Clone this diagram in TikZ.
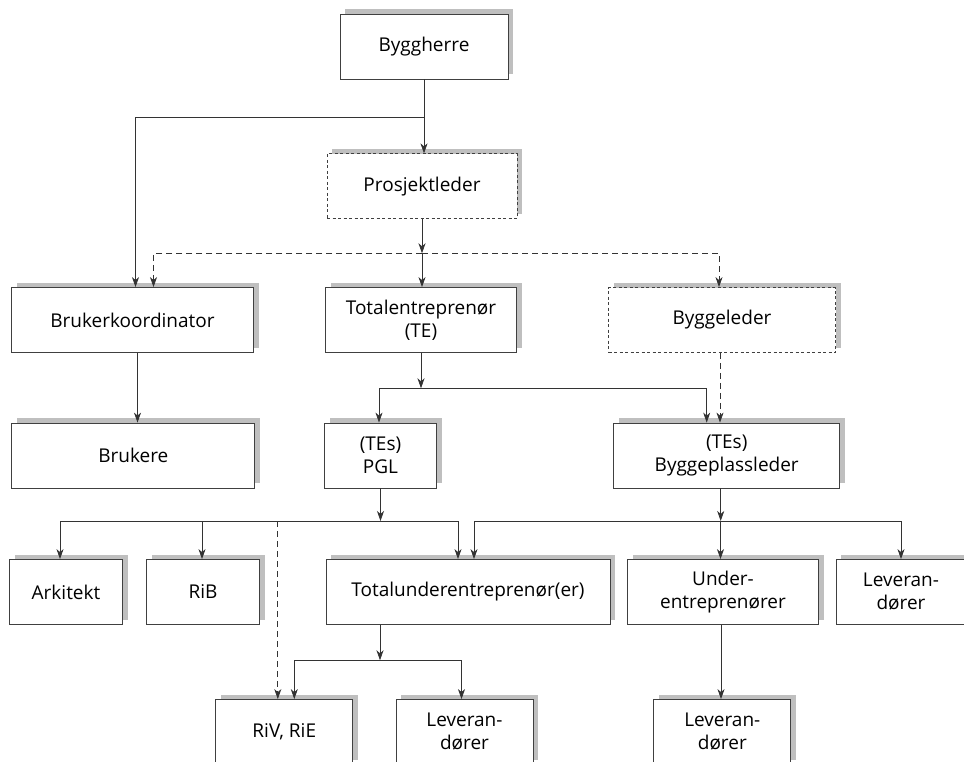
\documentclass[tikz,border=0pt]{standalone}
\usepackage{fontspec}
\setmainfont{Open Sans}
\usepackage{tikz}
\usetikzlibrary{arrows.meta,shadows,positioning}

\newcommand{\orgfont}{\fontsize{19}{23}\selectfont}

\tikzset{
    >={Stealth[length=10pt,width=7pt,inset=3pt]},
    orgbox/.style={draw=black!75, line width=0.8pt, fill=white, rectangle, align=center,
        inner sep=0pt, minimum height=65pt, font=\orgfont,
        drop shadow={shadow xshift=5pt, shadow yshift=5pt, fill=black!25, opacity=1}},
    dashbox/.style={orgbox, dash pattern=on 3pt off 2.5pt},
    link/.style={draw=black!80, line width=0.8pt},
    dashlink/.style={link, dash pattern=on 6pt off 4pt}
}

\begin{document}
\begin{tikzpicture}[x=1pt,y=-1pt]
    \path [fill=white] (0,0) rectangle (964,762);
    \useasboundingbox (0,0) rectangle (964,762);
    \path
        (424,46.5)    node [orgbox, minimum width=168pt]  (byggherre) {Byggherre}
        (422,186.3)   node [dashbox, minimum width=190pt] (prosjektleder) {Prosjektleder}
        (132.5,320)   node [orgbox, minimum width=242pt]  (brukerkoord) {Brukerkoordinator}
        (421,320)     node [orgbox, minimum width=191pt]  (te) {Totalentreprenør\\(TE)}
        (722,320)     node [dashbox, minimum width=227pt] (byggeleder) {Byggeleder}
        (133.3,455.5) node [orgbox, minimum width=243pt]  (brukere) {Brukere}
        (380.5,455.5) node [orgbox, minimum width=112pt]  (pgl) {(TEs)\\PGL}
        (726.7,455.5) node [orgbox, minimum width=226pt]  (bpl) {(TEs)\\Byggeplassleder}
        (66,592)      node [orgbox, minimum width=113pt]  (arkitekt) {Arkitekt}
        (203,592)     node [orgbox, minimum width=113pt]  (rib) {RiB}
        (468,592)     node [orgbox, minimum width=284pt]  (tue) {Totalunderentreprenør(er)}
        (723,592)     node [orgbox, minimum width=191pt]  (ue) {Under-\\entreprenører}
        (901,592)     node [orgbox, minimum width=130pt]  (levR) {Leveran-\\dører}
        (284.3,732)   node [orgbox, minimum width=137pt]  (riv) {RiV, RiE}
        (464.5,732)   node [orgbox, minimum width=137pt]  (levM) {Leveran-\\dører}
        (722.3,732)   node [orgbox, minimum width=137pt]  (levB) {Leveran-\\dører}
        ;
    % branch points
    \coordinate (jtop)  at (424,117.3);
    \coordinate (jdash) at (422,253.3);
    \coordinate (jte)   at (421,388.3);
    \coordinate (jpgl)  at (380.5,521);
    \coordinate (jbpl)  at (720.7,521);
    \coordinate (jtue)  at (380,660.3);

    \draw [link,->] (byggherre.south) -- (byggherre.south |- prosjektleder.north);
    \draw [link,->] (jtop) -| ([xshift=3pt]brukerkoord.north);
    \draw [link,->] (prosjektleder.south) -- (jdash);
    \draw [link,->] (jdash) -- (jdash |- te.north);
    \draw [dashlink,->] (jdash) -| ([xshift=21pt]brukerkoord.north);
    \draw [dashlink,->] (jdash) -| ([xshift=-3pt]byggeleder.north);
    \draw [link,->] ([xshift=5pt]brukerkoord.south) -- ([xshift=5pt]brukerkoord.south |- brukere.north);

    \draw [link,->] (te.south) -- (jte);
    \draw [link,->] (jte) -| ([xshift=-1.5pt]pgl.north);
    \draw [link,->] (jte) -| ([xshift=-20pt]bpl.north);
    \draw [dashlink,->] ([xshift=-2pt]byggeleder.south) -- ([xshift=-2pt]byggeleder.south |- bpl.north);

    \draw [link,->] (pgl.south) -- (jpgl);
    \draw [link,->] (jpgl) -| ([xshift=-6pt]arkitekt.north);
    \draw [link,->] (jpgl) -| ([xshift=-1pt]rib.north);
    \draw [link,->] (jpgl) -| ([xshift=-10pt]tue.north);
    \draw [dashlink,->] ([xshift=-6.5pt]riv.north |- jpgl) -- ([xshift=-6.5pt]riv.north);

    \draw [link,->] ([xshift=-6pt]bpl.south) -- (jbpl);
    \draw [link,->] (jbpl) -| ([xshift=6pt]tue.north);
    \draw [link,->] (jbpl) -| ([xshift=-2.5pt]ue.north);
    \draw [link,->] (jbpl) -| (levR.north);

    \draw [link,->] ([xshift=-88pt]tue.south) -- (jtue);
    \draw [link,->] (jtue) -| ([xshift=10pt]riv.north);
    \draw [link,->] (jtue) -| ([xshift=-3pt]levM.north);
    \draw [link,->] ([xshift=-2pt]ue.south) -- ([xshift=-2pt]ue.south |- levB.north);
\end{tikzpicture}
\end{document}
